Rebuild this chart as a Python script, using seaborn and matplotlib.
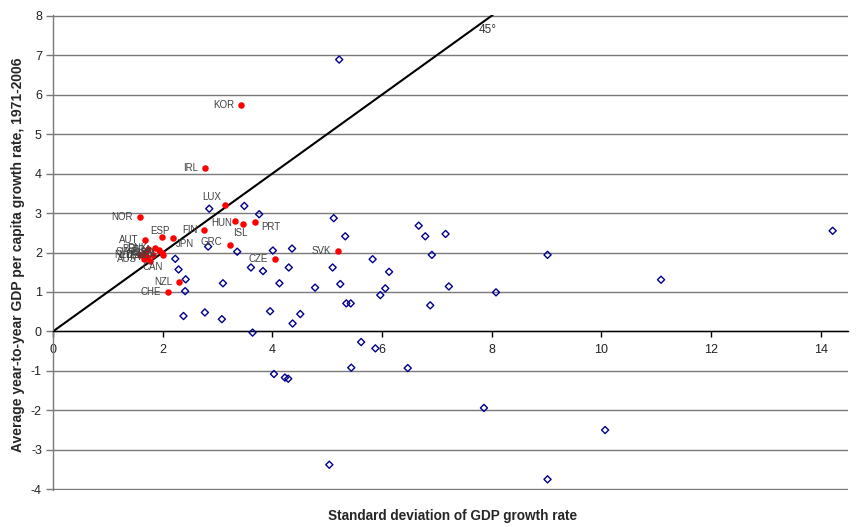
import pandas as pd
import matplotlib
matplotlib.use("Agg")
import matplotlib.pyplot as plt
import seaborn as sns

# OECD countries (labelled, red dots)
oecd_codes = ["KOR", "IRL", "LUX", "NOR", "HUN", "ISL", "PRT", "FIN", "GRC",
              "SVK", "CZE", "NZL", "CHE", "AUT", "ESP", "JPN", "CAN", "BEL",
              "DNK", "FRA", "GBR", "USA", "DEU", "NLD", "SWE", "AUS", "ITA"]
oecd_sd = [3.43, 2.77, 3.14, 1.59, 3.32, 3.46, 3.69, 2.76, 3.23,
           5.19, 4.04, 2.30, 2.09, 1.68, 1.99, 2.19, 1.77, 1.73,
           1.86, 1.93, 1.98, 2.01, 1.82, 1.59, 1.68, 1.66, 1.72]
oecd_growth = [5.73, 4.14, 3.21, 2.90, 2.79, 2.73, 2.77, 2.56, 2.19,
               2.03, 1.84, 1.25, 1.01, 2.32, 2.40, 2.36, 1.79, 2.10,
               2.11, 2.07, 1.99, 1.94, 1.93, 1.94, 2.02, 1.83, 1.88]

# other countries (blue open diamonds)
other_sd = [5.22, 2.85, 3.49, 3.76, 5.12, 6.67, 5.33, 2.83, 3.36, 4.01,
            4.36, 5.83, 6.13, 3.61, 3.83, 4.30, 5.10, 2.42, 3.10, 4.13,
            4.78, 5.24, 6.06, 5.97, 2.29, 2.23, 2.41, 5.35, 5.43, 2.77,
            3.08, 3.96, 4.51, 2.38, 9.02, 6.91, 6.79, 7.16, 7.22, 8.08,
            6.88, 4.37, 5.62, 5.88, 5.44, 6.47, 4.03, 4.23, 4.29, 7.86,
            10.07, 9.02, 5.04, 3.64, 11.09, 14.22]
other_growth = [6.89, 3.11, 3.18, 2.97, 2.87, 2.68, 2.41, 2.15, 2.02, 2.05,
                2.10, 1.83, 1.51, 1.62, 1.53, 1.62, 1.62, 1.32, 1.22, 1.22,
                1.11, 1.20, 1.09, 0.92, 1.57, 1.84, 1.02, 0.71, 0.71, 0.48,
                0.31, 0.51, 0.44, 0.39, 1.94, 1.94, 2.41, 2.47, 1.14, 0.99,
                0.66, 0.20, -0.27, -0.43, -0.92, -0.93, -1.08, -1.17, -1.20, -1.94,
                -2.50, -3.75, -3.38, -0.03, 1.31, 2.55]

x_ticks = [0, 2, 4, 6, 8, 10, 12, 14]
y_ticks = list(range(-4, 9))

# label placement (offset in points, alignment); default is left of the dot
label_pos = {
    "LUX": (-9.7, 5.8, "center"),
    "HUN": (-2, -1.4, "right"),
    "ISL": (-2, -6.5, "center"),
    "PRT": (4.3, -3.5, "left"),
    "GRC": (-5.5, 2, "right"),
    "ESP": (-1.5, 4.3, "center"),
    "JPN": (2, -4.3, "left"),
    "CAN": (2, -4.3, "center"),
}

sns.set_theme(style="white")
plt.rcParams["font.family"] = ["Liberation Sans", "DejaVu Sans"]
plt.rcParams["axes.unicode_minus"] = False

oecd = pd.DataFrame({"code": oecd_codes, "sd": oecd_sd, "growth": oecd_growth})
other = pd.DataFrame({"sd": other_sd, "growth": other_growth})

fig = plt.figure(figsize=(8.64, 5.27), dpi=100)
ax = fig.add_axes([53 / 864, 37 / 527, 795 / 864, 475 / 527])

ax.set_xlim(0, 14.5)
ax.set_ylim(-4.02, 8.02)
ax.set_xticks(x_ticks)
ax.set_yticks(y_ticks)
ax.yaxis.grid(True, color="#7a7a7a", linewidth=1)
ax.xaxis.grid(False)
ax.set_axisbelow(True)

# 45 degree line
ax.axline((0, 0), slope=1, color="black", linewidth=1.5, zorder=2)
ax.annotate("45°", xy=(7.63, 7.63), xytext=(5, 0), textcoords="offset points",
            ha="left", va="center", fontsize=8.5, color="#333333")

sns.scatterplot(data=other, x="sd", y="growth", marker="D", s=13,
                fc="none", ec="#00008b", linewidth=1, ax=ax, zorder=3)
sns.scatterplot(data=oecd, x="sd", y="growth", marker="o", s=22,
                color="#ff0000", linewidth=0, ax=ax, zorder=4)

for code, xv, yv in zip(oecd_codes, oecd_sd, oecd_growth):
    dx, dy, ha = label_pos.get(code, (-5, 0, "right"))
    ax.annotate(code, xy=(xv, yv), xytext=(dx, dy), textcoords="offset points",
                ha=ha, va="center", fontsize=7, color="#404040", zorder=5)

for side in ["top", "right"]:
    ax.spines[side].set_visible(False)
ax.spines["left"].set_color("#7a7a7a")
ax.spines["left"].set_linewidth(1)
ax.spines["bottom"].set_position(("data", 0))
ax.spines["bottom"].set_color("black")
ax.spines["bottom"].set_linewidth(1)

ax.tick_params(axis="x", direction="out", length=4, width=1, color="black",
               pad=5, labelsize=9, labelcolor="#222222", bottom=True)
ax.tick_params(axis="y", direction="out", length=5, width=1, color="#7a7a7a",
               pad=3, labelsize=9, labelcolor="#222222", left=True)
ax.set_xlabel("")
ax.set_ylabel("")

fig.text(453 / 864, 1 - 516 / 527, "Standard deviation of GDP growth rate",
         ha="center", va="center", fontsize=9.8, fontweight="bold")
fig.text(18 / 864, 1 - 255 / 527,
         "Average year-to-year GDP per capita growth rate, 1971-2006",
         ha="center", va="center", rotation=90, fontsize=10, fontweight="bold")

fig.savefig("out.png", dpi=100)
